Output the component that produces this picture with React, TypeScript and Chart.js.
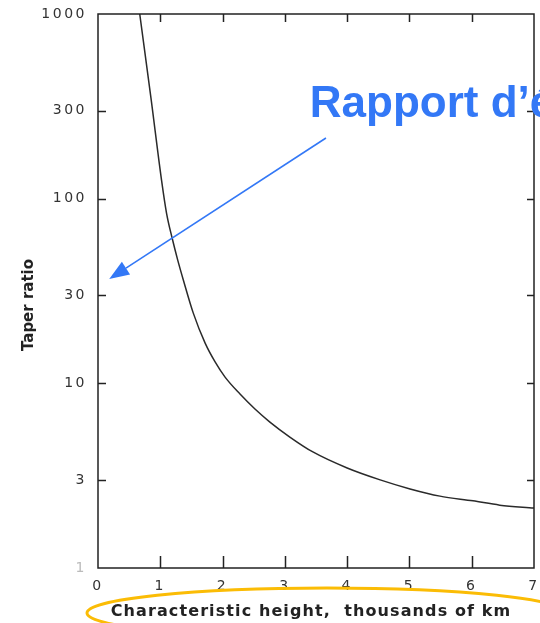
import React, { useEffect, useRef } from "react";
import { Chart, registerables } from "chart.js";

Chart.register(...registerables);

// Data
const heightKm = [0.67, 0.85, 1.02, 1.1, 1.19, 1.28, 1.37, 1.53, 1.72, 1.88, 2.04, 2.28, 2.52, 2.76, 3.08, 3.45, 4.0, 4.53, 5.01, 5.49, 6.02, 6.45, 7.0];
const taperRatio = [1000, 351, 126, 83.6, 61.2, 46.5, 36.3, 24.0, 16.5, 13.05, 10.8, 8.75, 7.26, 6.17, 5.12, 4.25, 3.48, 3.0, 2.68, 2.45, 2.31, 2.19, 2.11];
const yTickValues = [1, 3, 10, 30, 100, 300, 1000];
const xTickValues = [0, 1, 2, 3, 4, 5, 6, 7];
const yTitle = "Taper ratio";
const xTitle = "Characteristic height,  thousands of km";
const calloutText = "Rapport d\u2019\u00e9";
const calloutAnchor = { x: 3.4, y: 277 };
const arrowFrom = { x: 3.66, y: 213 };
const arrowTo = { x: 0.18, y: 36.7 };

const BLUE = "#3378f6";
const ORANGE = "#fbbc05";

const framePlugin = {
  id: "frameAndAnnotations",
  beforeDraw(chart: any) {
    chart.ctx.letterSpacing = "2.5px";
  },
  beforeDatasetsDraw(chart: any) {
    chart.ctx.letterSpacing = "0px";
  },
  afterDraw(chart: any) {
    const ctx = chart.ctx as CanvasRenderingContext2D;
    const { left, right, top, bottom } = chart.chartArea;
    const xs = chart.scales.x;
    const ys = chart.scales.y;
    ctx.save();
    ctx.letterSpacing = "0px";
    // frame
    ctx.strokeStyle = "#222";
    ctx.lineWidth = 1.5;
    ctx.strokeRect(left, top, right - left, bottom - top);
    // inward ticks
    ctx.beginPath();
    for (const v of yTickValues) {
      if (v === yTickValues[0] || v === yTickValues[yTickValues.length - 1]) continue;
      const py = Math.round(ys.getPixelForValue(v)) + 0.5;
      ctx.moveTo(left, py);
      ctx.lineTo(left + 8, py);
      ctx.moveTo(right, py);
      ctx.lineTo(right - 7, py);
    }
    for (const v of xTickValues) {
      if (v === xTickValues[0] || v === xTickValues[xTickValues.length - 1]) continue;
      const px = Math.round(xs.getPixelForValue(v)) + 0.5;
      ctx.moveTo(px, bottom);
      ctx.lineTo(px, bottom - 12);
      ctx.moveTo(px, top);
      ctx.lineTo(px, top + 8);
    }
    ctx.stroke();

    // axis titles
    ctx.fillStyle = "#222";
    ctx.font = "bold 15px 'DejaVu Sans'";
    ctx.textAlign = "center";
    ctx.textBaseline = "middle";
    ctx.save();
    ctx.translate(29, 305);
    ctx.rotate(-Math.PI / 2);
    ctx.fillText(yTitle, 0, 0);
    ctx.restore();
    ctx.font = "bold 16px 'DejaVu Sans'";
    ctx.letterSpacing = "1.1px";
    ctx.fillText(xTitle, 311, 612);
    ctx.letterSpacing = "0px";

    // orange ellipse
    ctx.strokeStyle = ORANGE;
    ctx.lineWidth = 3;
    ctx.beginPath();
    ctx.ellipse(327, 613, 240, 25, 0, 0, Math.PI * 2);
    ctx.stroke();

    // callout text
    ctx.fillStyle = BLUE;
    ctx.font = "bold 44px 'Liberation Sans'";
    ctx.textAlign = "left";
    ctx.textBaseline = "alphabetic";
    ctx.fillText(calloutText, xs.getPixelForValue(calloutAnchor.x), ys.getPixelForValue(calloutAnchor.y));

    // arrow
    const x1 = xs.getPixelForValue(arrowFrom.x);
    const y1 = ys.getPixelForValue(arrowFrom.y);
    const x2 = xs.getPixelForValue(arrowTo.x);
    const y2 = ys.getPixelForValue(arrowTo.y);
    const ang = Math.atan2(y2 - y1, x2 - x1);
    const headLen = 20;
    const headHalf = 7.5;
    const bx = x2 - headLen * Math.cos(ang);
    const by = y2 - headLen * Math.sin(ang);
    ctx.strokeStyle = BLUE;
    ctx.lineWidth = 1.6;
    ctx.beginPath();
    ctx.moveTo(x1, y1);
    ctx.lineTo(bx, by);
    ctx.stroke();
    ctx.fillStyle = BLUE;
    ctx.beginPath();
    ctx.moveTo(x2, y2);
    ctx.lineTo(bx + headHalf * Math.sin(ang), by - headHalf * Math.cos(ang));
    ctx.lineTo(bx - headHalf * Math.sin(ang), by + headHalf * Math.cos(ang));
    ctx.closePath();
    ctx.fill();
    ctx.restore();
  },
};

export default function App() {
  const ref = useRef<HTMLCanvasElement | null>(null);
  useEffect(() => {
    document.body.style.margin = "0";
    if (!ref.current) return;
    const chart = new Chart(ref.current, {
      type: "line",
      data: {
        datasets: [
          {
            data: heightKm.map((x, i) => ({ x, y: taperRatio[i] })),
            borderColor: "#2a2a2a",
            borderWidth: 1.5,
            pointRadius: 0,
            cubicInterpolationMode: "monotone",
            fill: false,
          },
        ],
      },
      options: {
        animation: false,
        responsive: false,
        layout: { padding: { left: 0, right: 6, top: 14, bottom: 0 } },
        plugins: { legend: { display: false }, tooltip: { enabled: false }, title: { display: false } },
        scales: {
          x: {
            type: "linear",
            min: 0,
            max: 7,
            grid: { display: false, drawTicks: false },
            border: { display: false },
            afterBuildTicks: (s: any) => {
              s.ticks = xTickValues.map((v) => ({ value: v }));
            },
            afterFit: (s: any) => {
              s.height = 55;
              s.paddingLeft = 0;
              s.paddingRight = 0;
            },
            ticks: {
              padding: 10,
              color: "#333",
              font: { family: "'DejaVu Sans'", size: 14 },
              callback: (v: any) => String(v),
            },
          },
          y: {
            type: "logarithmic",
            min: 1,
            max: 1000,
            grid: { display: false, drawTicks: false },
            border: { display: false },
            afterBuildTicks: (s: any) => {
              s.ticks = yTickValues.map((v) => ({ value: v }));
            },
            afterFit: (s: any) => {
              s.width = 98;
              s.paddingTop = 0;
              s.paddingBottom = 0;
            },
            ticks: {
              padding: 11,
              color: (c: any) => (c.tick && c.tick.value === 1 ? "#bbb" : "#333"),
              font: { family: "'DejaVu Sans'", size: 14 },
              callback: (v: any) => String(v),
            },
          },
        },
      },
      plugins: [framePlugin],
    } as any);
    return () => chart.destroy();
  }, []);
  return (
    <div style={{ width: 540, height: 623 }}>
      <canvas ref={ref} width={540} height={623} />
    </div>
  );
}
